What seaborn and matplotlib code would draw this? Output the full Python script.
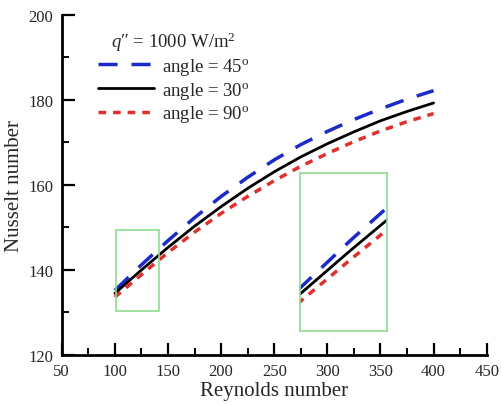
import matplotlib
matplotlib.use("Agg")
import matplotlib.pyplot as plt
import seaborn as sns
import pandas as pd
from matplotlib.patches import Rectangle
from matplotlib.ticker import MultipleLocator

reynolds = [100, 125, 150, 175, 200, 225, 250, 275, 300, 325, 350, 375, 400]
nu_45 = [135.2, 141.2, 146.9, 152.3, 157.3, 161.8, 165.9, 169.5, 172.6, 175.4, 177.9, 180.2, 182.2]
nu_30 = [134.5, 140.0, 145.3, 150.3, 154.9, 159.2, 163.1, 166.6, 169.7, 172.5, 175.1, 177.3, 179.3]
nu_90 = [133.6, 138.9, 144.1, 148.9, 153.3, 157.3, 161.0, 164.4, 167.4, 170.2, 172.7, 174.9, 176.8]
labels = ["angle = 45$^{\\mathrm{o}}$", "angle = 30$^{\\mathrm{o}}$", "angle = 90$^{\\mathrm{o}}$"]

sns.set_theme(style="white")
plt.rcParams["font.family"] = ["Liberation Serif", "DejaVu Serif"]
plt.rcParams["mathtext.fontset"] = "custom"
plt.rcParams["mathtext.rm"] = "Liberation Serif"
plt.rcParams["mathtext.it"] = "Liberation Serif:italic"

df = pd.DataFrame({"Re": reynolds, "45": nu_45, "30": nu_30, "90": nu_90})

styles = [
    ("45", "#1a2bc8", (0, (5.5, 4)), 2.5),
    ("30", "black", "-", 2.0),
    ("90", "#e0302c", (0, (2.2, 2.0)), 2.5),
]

fig = plt.figure(figsize=(5.01, 4.06), dpi=100)
ax = fig.add_axes([0.1232, 0.1232, 0.8482, 0.8374])

def draw(a, with_labels):
    for (key, col, ls, lw), lab in zip(styles, labels):
        sns.lineplot(data=df, x="Re", y=key, ax=a, color=col, linestyle=ls,
                     linewidth=lw, label=lab if with_labels else None, legend=False)

draw(ax, True)

ax.set_xlim(50, 450)
ax.set_ylim(120, 200)
ax.xaxis.set_major_locator(MultipleLocator(50))
ax.xaxis.set_minor_locator(MultipleLocator(25))
ax.yaxis.set_major_locator(MultipleLocator(20))
ax.yaxis.set_minor_locator(MultipleLocator(10))
ax.tick_params(which="major", direction="in", length=9, width=1.6, labelsize=12, color="black",
               left=True, bottom=True, pad=6)
ax.tick_params(which="minor", direction="in", length=5, width=1.4, color="black", left=True, bottom=True)
for s in ["top", "right"]:
    ax.spines[s].set_visible(False)
for s in ["left", "bottom"]:
    ax.spines[s].set_color("black")
    ax.spines[s].set_linewidth(2.0)
ax.set_xlabel("Reynolds number", fontsize=15, labelpad=1)
ax.set_ylabel("Nusselt number", fontsize=15, labelpad=3)

ax.add_patch(Rectangle((101, 130.3), 41, 19, fill=False, edgecolor="#8fdc8f", linewidth=1.2, zorder=5))

ins = ax.inset_axes([274, 125.6, 82, 37.3], transform=ax.transData)
draw(ins, False)
ins.set_xlim(101, 142)
ins.set_ylim(130.3, 149.3)
ins.set_xticks([])
ins.set_yticks([])
ins.set_xlabel("")
ins.set_ylabel("")
ins.patch.set_alpha(0)
for s in ins.spines.values():
    s.set_visible(True)
    s.set_color("#8fdc8f")
    s.set_linewidth(1.2)

leg = ax.legend(loc="upper left", bbox_to_anchor=(0.05, 1.0), frameon=False, fontsize=13.5,
                handlelength=3.0, handletextpad=0.4, labelspacing=0.14, borderpad=0.3,
                title="$q$\u2033 = 1000 W/m$^2$", title_fontsize=13.5)

fig.savefig("out.png", dpi=100)
